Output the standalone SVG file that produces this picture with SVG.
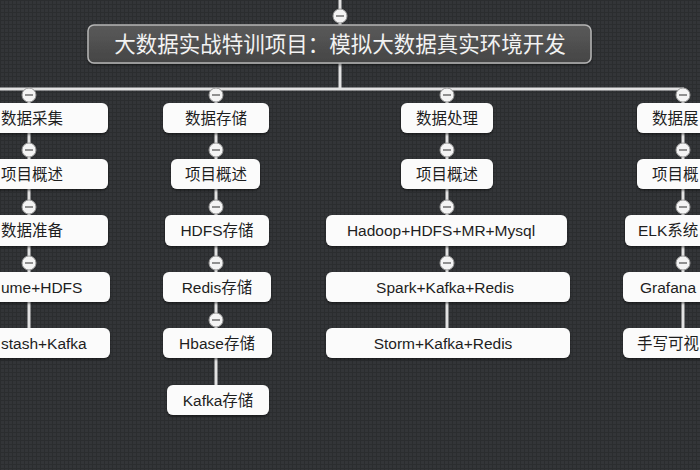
<svg xmlns="http://www.w3.org/2000/svg" width="700" height="470" viewBox="0 0 700 470">
<defs>
<pattern id="grid" width="4" height="4" patternUnits="userSpaceOnUse">
<rect width="4" height="4" fill="#333538"/>
<path d="M0 0.5H4M0.5 0V4" stroke="#2b2d2f" stroke-width="1"/>
</pattern>
<linearGradient id="tg" x1="0" y1="0" x2="0" y2="1">
<stop offset="0" stop-color="#5a5a5a"/>
<stop offset="1" stop-color="#454545"/>
</linearGradient>
<filter id="sh" x="-10%" y="-20%" width="120%" height="150%">
<feDropShadow dx="0" dy="1.5" stdDeviation="1.2" flood-color="#000" flood-opacity="0.5"/>
</filter>
<g id="tog">
<circle r="7" fill="#f4f4f4" stroke="#9a9a9a" stroke-width="1"/>
<path d="M-4 0H4" stroke="#777" stroke-width="1.6"/>
</g>
</defs>
<style>
.n{fill:#fbfbfb;filter:url(#sh)}
.t{font-family:"Liberation Sans","Noto Sans CJK SC",sans-serif;font-size:15.5px;fill:#1e1e1e}
.c{text-anchor:middle}
.ln{stroke:#e2e2e2;stroke-width:3;fill:none}
</style>
<rect width="700" height="470" fill="url(#grid)"/>

<g id="connectors">
<path class="ln" d="M340 0V63M340 63V89M0 89H684"/>
<path class="ln" d="M29 89V358M216 89V415M447 89V358M683 89V358"/>
<use href="#tog" x="340" y="16"/>
<use href="#tog" x="29" y="95"/>
<use href="#tog" x="216" y="95"/>
<use href="#tog" x="447" y="95"/>
<use href="#tog" x="683" y="95"/>
<use href="#tog" x="29" y="150"/>
<use href="#tog" x="29" y="207"/>
<use href="#tog" x="29" y="263"/>
<use href="#tog" x="216" y="150"/>
<use href="#tog" x="216" y="207"/>
<use href="#tog" x="216" y="263"/>
<use href="#tog" x="216" y="320"/>
<use href="#tog" x="447" y="150"/>
<use href="#tog" x="447" y="207"/>
<use href="#tog" x="447" y="263"/>
<use href="#tog" x="683" y="150"/>
<use href="#tog" x="683" y="207"/>
<use href="#tog" x="683" y="263"/>
</g>

<g id="title">
<rect x="88" y="25" width="503" height="38" rx="6" fill="url(#tg)" stroke="#b5b5b5" stroke-width="1.5" filter="url(#sh)"/>
<text x="340" y="52" class="c" style="font-family:'Liberation Sans','Noto Sans CJK SC',sans-serif;font-size:21.5px;fill:#f2f2f2">大数据实战特训项目：模拟大数据真实环境开发</text>
</g>

<g id="col1">
<g id="n1a"><rect class="n" x="-50" y="103" width="158" height="30" rx="6"/><text class="t" x="1" y="123.5">数据采集</text></g>
<g id="n1b"><rect class="n" x="-50" y="159" width="158" height="30" rx="6"/><text class="t" x="1" y="179.5">项目概述</text></g>
<g id="n1c"><rect class="n" x="-50" y="215" width="158" height="31" rx="6"/><text class="t" x="1" y="236">数据准备</text></g>
<g id="n1d"><rect class="n" x="-50" y="272" width="160" height="30" rx="6"/><text class="t" x="1" y="292.5">ume+HDFS</text></g>
<g id="n1e"><rect class="n" x="-50" y="328" width="160" height="30" rx="6"/><text class="t" x="1" y="348.5">stash+Kafka</text></g>
</g>

<g id="col2">
<g id="n2a"><rect class="n" x="163" y="103" width="106" height="30" rx="6"/><text class="t c" x="216" y="123.5">数据存储</text></g>
<g id="n2b"><rect class="n" x="171" y="159" width="89" height="30" rx="6"/><text class="t c" x="216" y="179.5">项目概述</text></g>
<g id="n2c"><rect class="n" x="165" y="215" width="104" height="31" rx="6"/><text class="t c" x="217" y="236">HDFS存储</text></g>
<g id="n2d"><rect class="n" x="163" y="272" width="108" height="30" rx="6"/><text class="t c" x="217" y="292.5">Redis存储</text></g>
<g id="n2e"><rect class="n" x="163" y="328" width="109" height="30" rx="6"/><text class="t c" x="217" y="348.5">Hbase存储</text></g>
<g id="n2f"><rect class="n" x="167" y="385" width="102" height="30" rx="6"/><text class="t c" x="218" y="405.5">Kafka存储</text></g>
</g>

<g id="col3">
<g id="n3a"><rect class="n" x="401" y="103" width="92" height="30" rx="6"/><text class="t c" x="447" y="123.5">数据处理</text></g>
<g id="n3b"><rect class="n" x="401" y="159" width="92" height="30" rx="6"/><text class="t c" x="447" y="179.5">项目概述</text></g>
<g id="n3c"><rect class="n" x="326" y="215" width="241" height="31" rx="6"/><text class="t c" x="441" y="236">Hadoop+HDFS+MR+Mysql</text></g>
<g id="n3d"><rect class="n" x="326" y="272" width="244" height="30" rx="6"/><text class="t c" x="445" y="292.5">Spark+Kafka+Redis</text></g>
<g id="n3e"><rect class="n" x="326" y="328" width="244" height="30" rx="6"/><text class="t c" x="443" y="348.5">Storm+Kafka+Redis</text></g>
</g>

<g id="col4">
<g id="n4a"><rect class="n" x="637" y="103" width="100" height="30" rx="6"/><text class="t" x="652" y="123.5">数据展</text></g>
<g id="n4b"><rect class="n" x="637" y="159" width="100" height="30" rx="6"/><text class="t" x="652" y="179.5">项目概</text></g>
<g id="n4c"><rect class="n" x="625" y="215" width="110" height="31" rx="6"/><text class="t" x="638" y="236">ELK系统</text></g>
<g id="n4d"><rect class="n" x="623" y="272" width="110" height="30" rx="6"/><text class="t" x="640" y="292.5">Grafana</text></g>
<g id="n4e"><rect class="n" x="623" y="328" width="110" height="30" rx="6"/><text class="t" x="637" y="348.5">手写可视</text></g>
</g>
</svg>
